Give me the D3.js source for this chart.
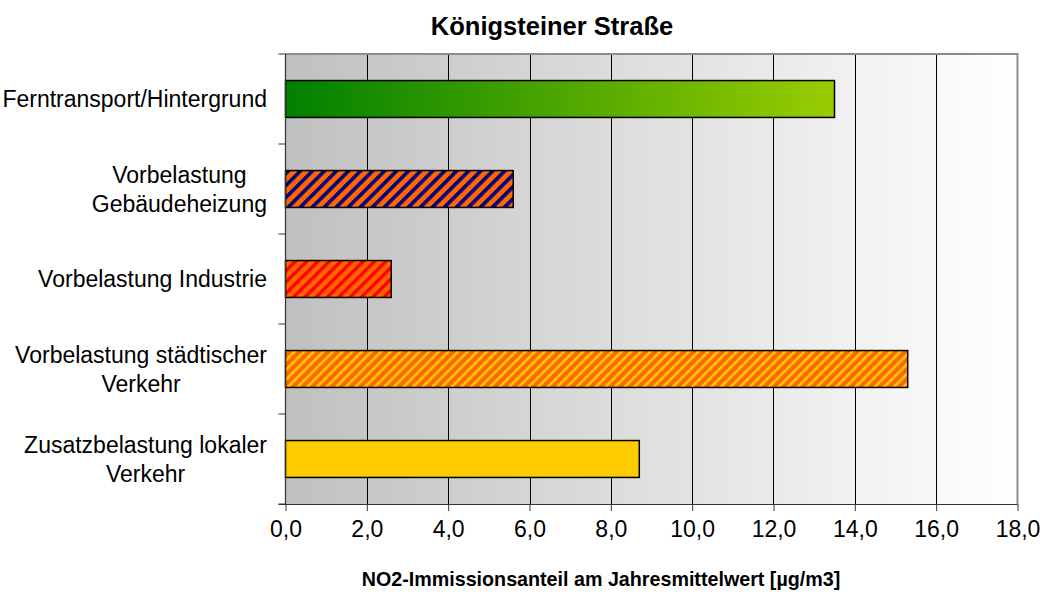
<!DOCTYPE html>
<html><head><meta charset="utf-8">
<script src="https://cdn.jsdelivr.net/npm/d3@7"></script>
<style>
html,body{margin:0;padding:0;background:#fff;}
text{font-family:"Liberation Sans",Arial,sans-serif;fill:#000;}
</style></head>
<body>
<svg id="chart" width="1046" height="592"></svg>
<script>
const title = "Königsteiner Straße";
const xAxisTitle = "NO2-Immissionsanteil am Jahresmittelwert [µg/m3]";
const categories = [
  "Ferntransport/Hintergrund",
  "Vorbelastung\nGebäudeheizung",
  "Vorbelastung Industrie",
  "Vorbelastung städtischer\nVerkehr",
  "Zusatzbelastung lokaler\nVerkehr"
];
const values = [13.5, 5.6, 2.6, 15.3, 8.7];
const xTicks = [0, 2, 4, 6, 8, 10, 12, 14, 16, 18];
const xDomain = [0, 18];

const svg = d3.select("#chart");
const plot = {left: 285.5, right: 1017.5, top: 54, bottom: 504};

const x = d3.scaleLinear().domain(xDomain).range([plot.left, plot.right]);
const y = d3.scaleBand().domain(categories).range([plot.top, plot.bottom])
  .paddingInner(0.59).paddingOuter(0.295);

const defs = svg.append("defs");
const bg = defs.append("linearGradient").attr("id","bgGrad").attr("x1","0").attr("x2","1").attr("y1","0").attr("y2","0");
bg.append("stop").attr("offset","0").attr("stop-color","#c0c0c0");
bg.append("stop").attr("offset","1").attr("stop-color","#ffffff");

const gg = defs.append("linearGradient").attr("id","greenGrad").attr("x1","0").attr("x2","1").attr("y1","0").attr("y2","0");
gg.append("stop").attr("offset","0").attr("stop-color","#008000");
gg.append("stop").attr("offset","1").attr("stop-color","#99cc00");

function stripes(id, base, stripe, period, w) {
  const p = defs.append("pattern").attr("id", id).attr("patternUnits","userSpaceOnUse")
    .attr("width", period).attr("height", period).attr("patternTransform","rotate(45)");
  p.append("rect").attr("width",period).attr("height",period).attr("fill", base);
  p.append("rect").attr("x",0).attr("width",w).attr("height",period).attr("fill", stripe);
}
stripes("pNavy", "#ff6600", "#000080", 8.5, 3.6);
stripes("pRed", "#ff6600", "#ff0000", 8, 3.4);
stripes("pYellow", "#ff6600", "#ffcc00", 6.8, 2.6);
const fills = ["url(#greenGrad)", "url(#pNavy)", "url(#pRed)", "url(#pYellow)", "#ffcc00"];

// plot background
svg.append("rect").attr("x", plot.left).attr("y", plot.top)
  .attr("width", plot.right - plot.left).attr("height", plot.bottom - plot.top)
  .attr("fill", "url(#bgGrad)");

// gridlines
svg.append("g").selectAll("line").data(xTicks.filter(d => d > 0 && d < xDomain[1])).join("line")
  .attr("x1", d => Math.round(x(d)) + 0.5).attr("x2", d => Math.round(x(d)) + 0.5)
  .attr("y1", plot.top).attr("y2", plot.bottom)
  .attr("stroke", "#000").attr("stroke-width", 1);

// plot border top/right
svg.append("path")
  .attr("d", `M${plot.left},${plot.top}H${plot.right}V${plot.bottom}`)
  .attr("fill","none").attr("stroke","#8c8c8c").attr("stroke-width",2);

// bars
svg.append("g").selectAll("rect").data(categories).join("rect")
  .attr("x", x(0))
  .attr("y", d => y(d))
  .attr("width", (d, i) => x(values[i]) - x(0))
  .attr("height", y.bandwidth())
  .attr("fill", (d, i) => fills[i])
  .attr("stroke", "#000").attr("stroke-width", 1.5);

// x axis
const xAxis = d3.axisBottom(x).tickValues(xTicks).tickSize(7).tickPadding(10)
  .tickFormat(d => d3.format(".1f")(d).replace(".", ","));
const gx = svg.append("g").attr("transform", `translate(0,${plot.bottom})`).call(xAxis);
gx.select(".domain").attr("d", `M${plot.left - 7},0.5H${plot.right}`).attr("stroke","#333");
gx.selectAll(".tick line").attr("stroke","#333");
gx.selectAll(".tick text").style("font-size","23px").style("font-family","Liberation Sans, Arial, sans-serif").attr("fill","#000");

// y axis
const step = y.step();
const edges = categories.map(c => y(c) - (step - y.bandwidth()) / 2).concat([plot.bottom]);
const gy = svg.append("g");
gy.append("line").attr("x1", plot.left).attr("x2", plot.left).attr("y1", plot.top).attr("y2", plot.bottom)
  .attr("stroke","#333").attr("stroke-width",1.2);
gy.selectAll("line.tk").data(edges).join("line").attr("class","tk")
  .attr("x1", plot.left - 7).attr("x2", plot.left).attr("y1", d => d).attr("y2", d => d)
  .attr("stroke","#333");

// category labels
const labelRight = 267, lineH = 29;
categories.forEach(c => {
  const lines = c.split("\n");
  const cy = y(c) + y.bandwidth() / 2;
  const g = svg.append("g");
  const texts = lines.map((ln, i) => g.append("text")
    .attr("y", cy + (i - (lines.length - 1) / 2) * lineH + 8)
    .attr("text-anchor","middle").style("font-size","23px").text(ln));
  const maxW = d3.max(texts, t => t.node().getComputedTextLength());
  texts.forEach(t => t.attr("x", labelRight - maxW / 2));
});

// title
svg.append("text").attr("x", 552).attr("y", 35).attr("text-anchor","middle")
  .style("font-size","25.5px").style("font-weight","bold").text(title);

// x-axis title
svg.append("text").attr("x", 601).attr("y", 586).attr("text-anchor","middle")
  .style("font-size","19.7px").style("font-weight","bold").text(xAxisTitle);
</script>
</body></html>
